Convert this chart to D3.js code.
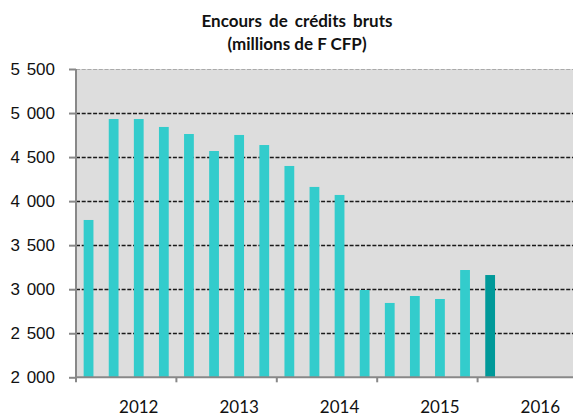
<!DOCTYPE html>
<html>
<head>
<meta charset="utf-8">
<script src="https://cdn.jsdelivr.net/npm/d3@7"></script>
<style>
  body { margin: 0; background: #fff; }
  svg { display: block; font-family: Lato, "Open Sans", sans-serif; }
</style>
</head>
<body>
<div id="chart"></div>
<script>
'use strict'
var width = 573;
var height = 417;

// quarters 2012 T1 -> 2016 T4
var quarters = ['2012T1','2012T2','2012T3','2012T4','2013T1','2013T2','2013T3','2013T4',
	'2014T1','2014T2','2014T3','2014T4','2015T1','2015T2','2015T3','2015T4',
	'2016T1','2016T2','2016T3','2016T4'];
var encours = [3786, 4932, 4932, 4842, 4762, 4569, 4751, 4637,
	4399, 4161, 4070, 2991, 2844, 2923, 2889, 3218, 3161];
var years = ['2012', '2013', '2014', '2015', '2016'];
var yTicks = [2000, 2500, 3000, 3500, 4000, 4500, 5000, 5500];
var titleLines = ['Encours de crédits bruts', '(millions de F CFP)'];

var margin = {top: 69, left: 76};
var plotW = 502, plotH = 308.3;

var svg = d3.select('#chart')
	.append('svg')
	.attr('width', width)
	.attr('height', height);

var x = d3.scaleBand()
	.domain(quarters)
	.range([0, plotW])
	.paddingInner(0.61)
	.paddingOuter(0.305);

var y = d3.scaleLinear()
	.domain([2000, 5500])
	.range([plotH, 0]);

var g = svg.append('g')
	.attr('transform', 'translate(' + margin.left + ',' + margin.top + ')');

// background of the plot
g.append('rect')
	.attr('width', plotW)
	.attr('height', plotH)
	.attr('fill', '#dddddd');

// grid lines
g.selectAll('.grid')
	.data(yTicks.filter(function(d){ return d > 2000; }))
	.enter()
	.append('line')
		.attr('x1', 0)
		.attr('x2', plotW)
		.attr('y1', function(d){ return Math.round(y(d)) + 0.5; })
		.attr('y2', function(d){ return Math.round(y(d)) + 0.5; })
		.style('stroke', function(d){ return d === 5500 ? '#aaaaaa' : '#1a1a1a'; })
		.style('stroke-width', function(d){ return d === 5500 ? 1.2 : 1.6; })
		.style('stroke-dasharray', '4,1.7');

// bars
g.selectAll('.bar')
	.data(encours)
	.enter()
	.append('rect')
		.attr('x', function(d, i){ return x(quarters[i]); })
		.attr('y', function(d){ return y(d); })
		.attr('width', x.bandwidth())
		.attr('height', function(d){ return plotH - y(d); })
		.attr('fill', function(d, i){ return i === encours.length - 1 ? '#009999' : '#33cccc'; });

// y axis
var yAxis = g.append('g')
	.call(d3.axisLeft(y)
		.tickValues(yTicks)
		.tickSize(7)
		.tickPadding(14)
		.tickFormat(function(d){ return d3.format(',')(d).replace(',', '\u2009\u2009'); }));
yAxis.select('.domain').remove();
yAxis.selectAll('.tick line').style('stroke', '#888').style('stroke-width', 2);
yAxis.selectAll('text').style('font-size', '17px').style('fill', '#111');
g.append('line')
	.attr('x1', 0).attr('x2', 0)
	.attr('y1', 0).attr('y2', plotH + 1)
	.style('stroke', '#888').style('stroke-width', 2);

// x axis: ticks between years
var yearStarts = years.map(function(yr){ return x(yr + 'T1') - x.step() * x.paddingInner() / 2; });
g.append('line')
	.attr('x1', 0).attr('x2', plotW)
	.attr('y1', plotH).attr('y2', plotH)
	.style('stroke', '#888').style('stroke-width', 2);
g.selectAll('.xtick')
	.data(yearStarts)
	.enter()
	.append('line')
		.attr('x1', function(d){ return d; })
		.attr('x2', function(d){ return d; })
		.attr('y1', plotH)
		.attr('y2', plotH + 5)
		.style('stroke', '#888').style('stroke-width', 2);

g.selectAll('.ylab')
	.data(years)
	.enter()
	.append('text')
		.attr('x', function(d){ return x(d + 'T3') + x.bandwidth() / 2; })
		.attr('y', plotH + 35.5)
		.attr('text-anchor', 'middle')
		.style('font-size', '17px')
		.style('fill', '#111')
		.text(function(d){ return d; });

// title
svg.append('g')
	.selectAll('text')
	.data(titleLines)
	.enter()
	.append('text')
		.attr('x', 297)
		.attr('y', function(d, i){ return 26.5 + i * 23.5; })
		.attr('text-anchor', 'middle')
		.style('font-size', '17px')
		.style('font-weight', 'bold')
		.style('word-spacing', function(d, i){ return i === 0 ? '3px' : '0px'; })
		.style('fill', '#111')
		.text(function(d){ return d; });
</script>
</body>
</html>
